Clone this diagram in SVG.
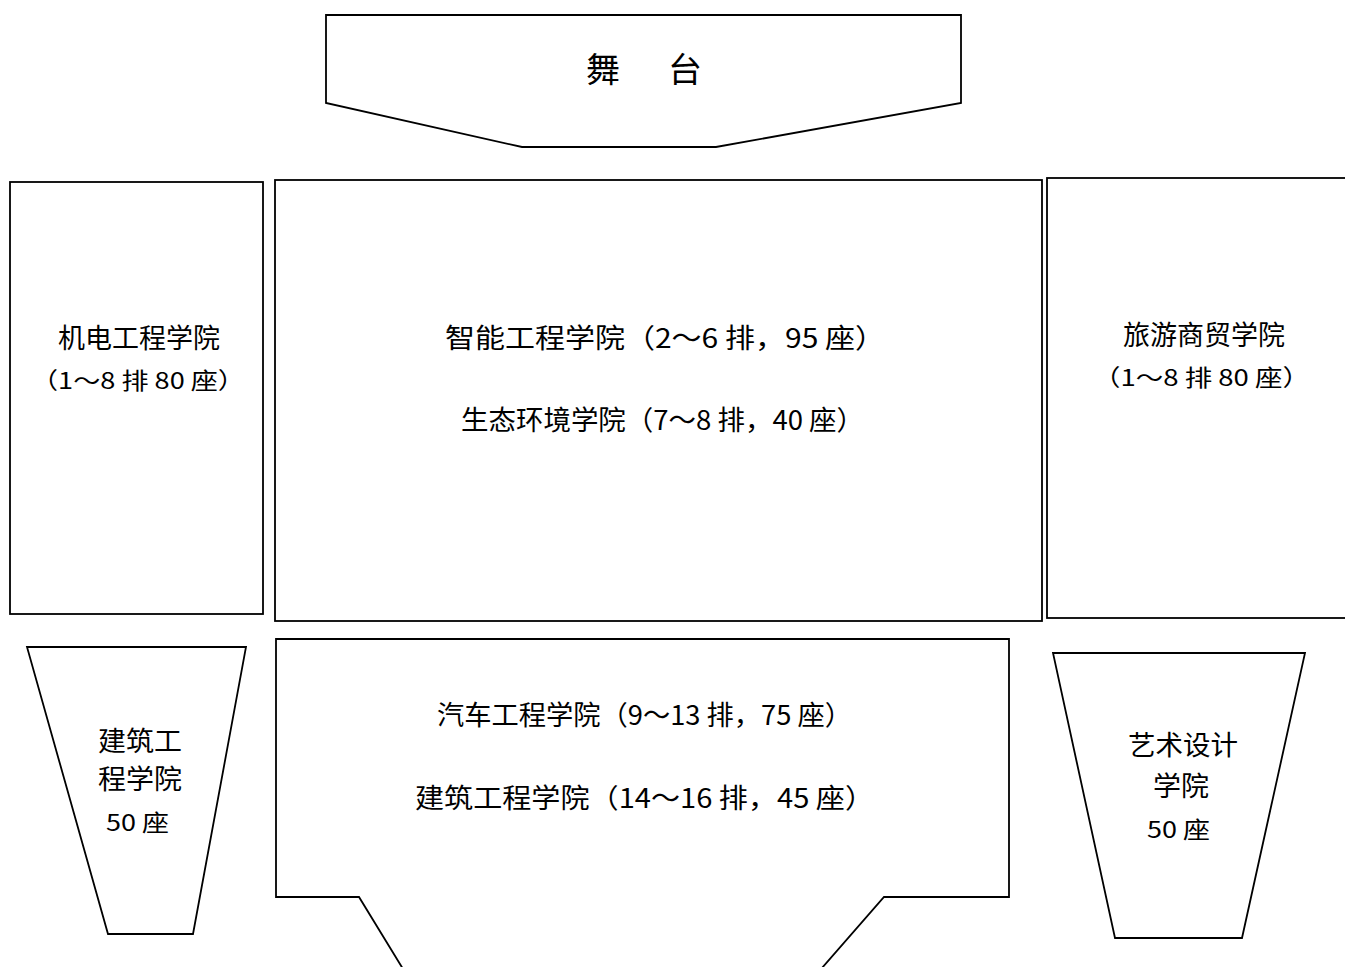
<svg xmlns="http://www.w3.org/2000/svg" width="1345" height="967" viewBox="0 0 1345 967">
<style>
.s{fill:#fff;stroke:#000;stroke-width:1.8;stroke-linejoin:miter}
text{font-family:"Noto Sans CJK SC","Liberation Sans",sans-serif;fill:#000}
.a{font-size:27px}
.b{font-size:23px}
.t{font-size:34px}
</style>
<rect width="1345" height="967" fill="#fff"/>
<g id="stage">
<polygon class="s" points="326,15 961,15 961,103 716,147 522,147 326,103"/>
<text class="t" x="586" y="82">舞</text>
<text class="t" x="668" y="82">台</text>
</g>
<g id="jidian">
<rect class="s" x="10" y="182" width="253" height="432"/>
<text class="a" x="58" y="348" textLength="162" lengthAdjust="spacingAndGlyphs">机电工程学院</text>
<text class="b" x="31" y="389" textLength="214" lengthAdjust="spacingAndGlyphs">（1～8 排 80 座）</text>
</g>
<g id="center-top">
<rect class="s" x="275" y="180" width="767" height="441"/>
<text class="a" x="445" y="348" textLength="440" lengthAdjust="spacingAndGlyphs">智能工程学院（2～6 排，95 座）</text>
<text class="a" x="461" y="430" textLength="403" lengthAdjust="spacingAndGlyphs">生态环境学院（7～8 排，40 座）</text>
</g>
<g id="lvyou">
<rect class="s" x="1047" y="178" width="310" height="440"/>
<text class="a" x="1123" y="345" textLength="162" lengthAdjust="spacingAndGlyphs">旅游商贸学院</text>
<text class="b" x="1093" y="386" textLength="217" lengthAdjust="spacingAndGlyphs">（1～8 排 80 座）</text>
</g>
<g id="jianzhu-left">
<polygon class="s" points="27,647 246,647 193,934 108,934"/>
<text class="a" x="98" y="751" textLength="84" lengthAdjust="spacingAndGlyphs">建筑工</text>
<text class="a" x="98" y="789" textLength="84" lengthAdjust="spacingAndGlyphs">程学院</text>
<text class="b" x="106" y="831" textLength="63" lengthAdjust="spacingAndGlyphs">50 座</text>
</g>
<g id="center-bottom">
<polygon class="s" points="276,639 1009,639 1009,897 884,897 794,1000 422,1000 359,897 276,897"/>
<text class="a" x="437" y="725" textLength="415" lengthAdjust="spacingAndGlyphs">汽车工程学院（9～13 排，75 座）</text>
<text class="a" x="415" y="808" textLength="459" lengthAdjust="spacingAndGlyphs">建筑工程学院（14～16 排，45 座）</text>
</g>
<g id="yishu">
<polygon class="s" points="1053,653 1305,653 1242,938 1115,938"/>
<text class="a" x="1128" y="755" textLength="110" lengthAdjust="spacingAndGlyphs">艺术设计</text>
<text class="a" x="1153" y="796" textLength="56" lengthAdjust="spacingAndGlyphs">学院</text>
<text class="b" x="1147" y="838" textLength="63" lengthAdjust="spacingAndGlyphs">50 座</text>
</g>
<g id="connectors"></g>
</svg>
